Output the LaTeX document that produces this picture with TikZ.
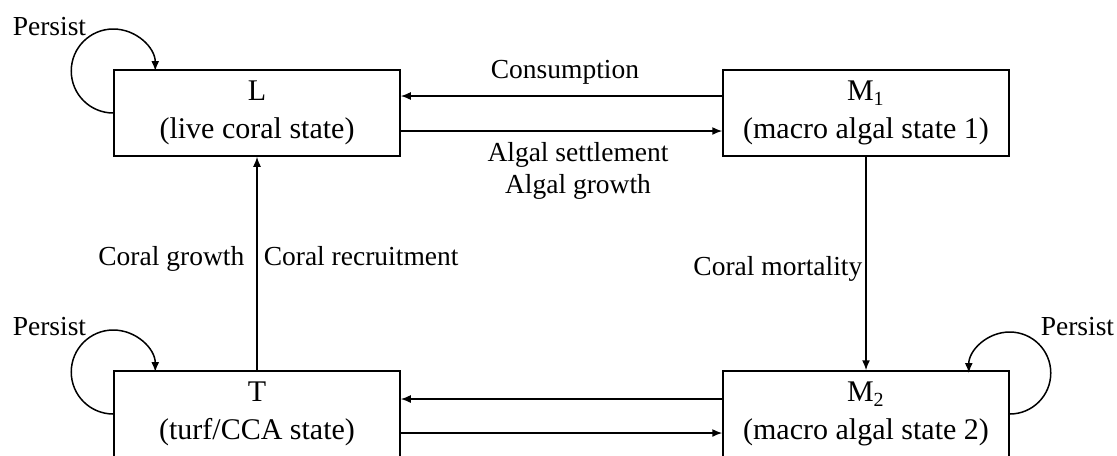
\documentclass[tikz,border=0pt]{standalone}
\usepackage{fontspec}
\setmainfont{Liberation Serif}
\usetikzlibrary{arrows.meta}

\begin{document}
\begin{tikzpicture}[x=0.4pt, y=-0.4pt, line width=0.6pt, >={Latex[length=4pt,width=3.2pt]},
	state/.style={rectangle, draw, align=center, minimum width=114.4pt, minimum height=34.4pt, inner sep=0pt, font=\fontsize{12}{15.2}\selectfont},
	lbl/.style={inner sep=0pt, align=center, font=\fontsize{11}{12.6}\selectfont}]
				\useasboundingbox (0, 0) rectangle (1117, 455);

				\node[state] (L) at (257, 113) {L\\(live coral state)};
				\node[state] (M1) at (866, 113) {M\textsubscript{1}\\(macro algal state 1)};
				\node[state] (T) at (257, 414) {T\\(turf/CCA state)};
				\node[state] (M2) at (866, 414) {M\textsubscript{2}\\(macro algal state 2)};

				% 線を引く
				\draw[->] ([yshift=6.8pt]M1.west) -- ([yshift=6.8pt]L.east);
				\draw[->] ([yshift=-7.2pt]L.east) -- ([yshift=-7.2pt]M1.west);
				\draw[->] ([yshift=6pt]M2.west) -- ([yshift=6pt]T.east);
				\draw[->] ([yshift=-7.6pt]T.east) -- ([yshift=-7.6pt]M2.west);
				\draw[->] (T) -- (L);
				\draw[->] (M1) -- (M2);

				% ループ
				\draw[->] (L.west) arc[start angle=270, end angle=0, radius=16.8pt];
				\draw[->] (T.west) arc[start angle=270, end angle=0, radius=16.8pt];
				\draw[->] (M2.east) arc[start angle=-90, end angle=180, radius=16.4pt];

				% ラベルを入れる
				\node[lbl, anchor=base] (cons) at (565, 78) {Consumption};
				\node[lbl] (algal) at (578, 171) {Algal settlement\\Algal growth};
				\node[lbl, anchor=base east] (cgrow) at (245, 265) {Coral growth};
				\node[lbl, anchor=base west] (crec) at (263, 265) {Coral recruitment};
				\node[lbl, anchor=base east] (cmort) at (863, 275) {Coral mortality};
				\node[lbl, anchor=base west] (pL) at (12, 35) {Persist};
				\node[lbl, anchor=base west] (pT) at (12, 335) {Persist};
				\node[lbl, anchor=base west] (pM2) at (1040, 335) {Persist};
			\end{tikzpicture}
\end{document}
